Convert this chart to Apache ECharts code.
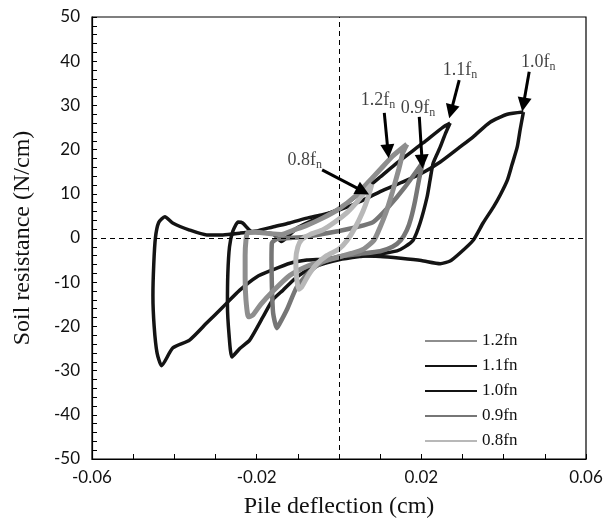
<!DOCTYPE html>
<html>
<head>
<meta charset="utf-8">
<script src="https://cdn.jsdelivr.net/npm/echarts@6/dist/echarts.min.js"></script>
<style>
  html, body { margin: 0; padding: 0; background: #fff; }
  #chart { width: 603px; height: 520px; }
</style>
</head>
<body>
<div id="chart"></div>
<script>
// series names (legend order)
var names = ['1.2fn', '1.1fn', '1.0fn', '0.9fn', '0.8fn'];
var xTickLabels = ['-0.06', '-0.02', '0.02', '0.06'];

// hysteresis loops: [deflection cm, resistance N/cm]
var loop10 = [
  [0.0448, 28.5], [0.0440, 24.5], [0.0433, 20.6], [0.0420, 16.5], [0.0409, 13.1], [0.0392, 9.8],
  [0.0375, 7.0], [0.0350, 3.4], [0.0326, -0.5], [0.0294, -3.4], [0.0270, -5.2], [0.0246, -5.8],
  [0.0200, -5.1], [0.0150, -4.6], [0.0100, -4.2], [0.0050, -4.1], [0.0000, -4.4], [-0.0040, -4.8],
  [-0.0078, -5.0], [-0.0119, -5.7], [-0.0161, -7.2], [-0.0200, -8.8], [-0.0241, -11.8], [-0.0282, -15.6],
  [-0.0321, -19.2], [-0.0363, -23.1], [-0.0404, -24.9], [-0.0431, -28.9], [-0.0442, -26.0], [-0.0449, -20.0],
  [-0.0452, -13.0], [-0.0450, -6.0], [-0.0446, 0.0], [-0.0438, 3.5], [-0.0423, 4.8], [-0.0404, 3.4],
  [-0.0363, 1.8], [-0.0321, 0.7], [-0.0282, 0.7], [-0.0241, 1.1], [-0.0200, 1.6], [-0.0161, 2.5],
  [-0.0120, 3.4], [-0.0078, 4.5], [-0.0040, 5.3], [0.0000, 6.3], [0.0050, 8.2], [0.0100, 10.5],
  [0.0150, 12.5], [0.0200, 14.6], [0.0246, 17.2], [0.0294, 20.6], [0.0326, 22.9], [0.0367, 26.2],
  [0.0409, 28.0], [0.0448, 28.5]
];
var loop11 = [
  [0.0270, 26.0], [0.0258, 23.5], [0.0246, 20.6], [0.0229, 17.0], [0.0221, 13.0], [0.0214, 9.3],
  [0.0197, 3.4], [0.0180, -0.5], [0.0160, -2.0], [0.0141, -2.9], [0.0100, -3.6], [0.0050, -4.2],
  [0.0000, -4.9], [-0.0030, -5.6], [-0.0063, -6.6], [-0.0102, -8.8], [-0.0136, -11.8], [-0.0161, -14.0],
  [-0.0185, -17.9], [-0.0217, -23.1], [-0.0241, -25.0], [-0.0260, -26.9], [-0.0267, -22.0], [-0.0271, -15.0],
  [-0.0270, -8.0], [-0.0266, -2.0], [-0.0258, 1.5], [-0.0245, 3.6], [-0.0234, 3.4], [-0.0215, 1.6],
  [-0.0190, 1.1], [-0.0160, 0.9], [-0.0140, -0.8], [-0.0125, 0.3], [-0.0100, 2.4], [-0.0050, 4.6],
  [0.0000, 6.6], [0.0058, 10.6], [0.0100, 13.8], [0.0141, 17.0], [0.0204, 21.5], [0.0253, 25.1],
  [0.0270, 26.0]
];
var loop12 = [
  [0.0165, 21.2], [0.0156, 19.5], [0.0145, 15.5], [0.0130, 10.5], [0.0115, 6.0], [0.0100, 2.5],
  [0.0085, -0.5], [0.0060, -2.5], [0.0030, -3.5], [0.0000, -4.3], [-0.0040, -5.3], [-0.0080, -6.5],
  [-0.0120, -8.5], [-0.0160, -12.0], [-0.0190, -15.0], [-0.0210, -17.5], [-0.0220, -17.8], [-0.0226, -14.0],
  [-0.0228, -9.0], [-0.0228, -4.0], [-0.0226, -0.5], [-0.0222, 1.2], [-0.0200, 1.3], [-0.0170, 1.0],
  [-0.0140, 0.8], [-0.0110, 1.8], [-0.0080, 2.8], [-0.0040, 4.5], [0.0000, 6.6], [0.0040, 9.5],
  [0.0070, 12.5], [0.0100, 15.5], [0.0130, 18.5], [0.0165, 21.2]
];
var loop09 = [
  [0.0204, 17.2], [0.0195, 13.5], [0.0185, 8.5], [0.0175, 4.5], [0.0165, 1.8], [0.0150, -0.5],
  [0.0130, -2.0], [0.0100, -3.0], [0.0050, -3.6], [0.0000, -4.2], [-0.0040, -5.5], [-0.0070, -7.5],
  [-0.0102, -11.0], [-0.0127, -16.3], [-0.0145, -19.5], [-0.0151, -20.4], [-0.0160, -17.0], [-0.0163, -11.0],
  [-0.0164, -5.0], [-0.0163, -1.1], [-0.0150, -0.2], [-0.0120, 0.0], [-0.0080, 0.3], [-0.0040, 0.9],
  [0.0000, 1.6], [0.0040, 2.4], [0.0083, 3.6], [0.0120, 7.0], [0.0160, 11.5], [0.0204, 17.2]
];
var loop08 = [
  [0.0080, 12.2], [0.0070, 9.0], [0.0058, 6.0], [0.0040, 2.5], [0.0020, -0.5], [0.0000, -2.5],
  [-0.0030, -4.0], [-0.0055, -6.0], [-0.0075, -8.5], [-0.0090, -11.0], [-0.0098, -11.6], [-0.0103, -9.0],
  [-0.0105, -5.0], [-0.0100, -2.0], [-0.0090, -0.3], [-0.0070, 0.8], [-0.0040, 1.8], [-0.0010, 3.6],
  [0.0020, 5.8], [0.0045, 8.3], [0.0065, 10.6], [0.0080, 12.2]
];

// arrow annotations
var arrowText = ['1.0', '1.1', '1.2', '0.9', '0.8'];
var arrowFrom = [[0.0462, 37.6], [0.0292, 35.7], [0.0110, 28.3], [0.0195, 27.4], [-0.0041, 15.4]];
var arrowTo = [[0.0448, 30.2], [0.0272, 28.6], [0.0119, 19.6], [0.0202, 17.3], [0.0058, 10.6]];
var labelPos = [[0.0484, 39.8], [0.0294, 38.0], [0.0095, 31.2], [0.0192, 29.4], [-0.0083, 17.6]];

var serif = '"Liberation Serif", "Times New Roman", serif';
var sans = 'Lato, "Open Sans", sans-serif';

var myChart = echarts.init(document.getElementById('chart'));

function loopSeries(name, data, color, width) {
	return {
		name: name,
		type: 'line',
		data: data,
		symbol: 'none',
		smooth: 0.2,
		animation: false,
		lineStyle: { color: color, width: width },
		itemStyle: { color: color }
	};
}

var arrowLines = [];
for (var i = 0; i < arrowFrom.length; i++) {
	arrowLines.push([{ coord: arrowFrom[i] }, { coord: arrowTo[i] }]);
}
var labelData = [];
for (var i = 0; i < labelPos.length; i++) {
	labelData.push({ value: labelPos[i], txt: arrowText[i] });
}

option = {
	backgroundColor: '#fff',
	animation: false,
	grid: {
		left: 92,
		right: 17,
		top: 17,
		bottom: 61,
		outerBoundsMode: 'none',
		show: true,
		borderColor: '#000',
		borderWidth: 1.2
	},
	legend: {
		data: names,
		orient: 'vertical',
		left: 420,
		top: 327,
		icon: 'rect',
		itemWidth: 52,
		itemHeight: 2,
		itemGap: 7,
		textStyle: { fontFamily: serif, fontSize: 17, color: '#111', lineHeight: 18 }
	},
	xAxis: {
		type: 'value',
		min: -0.06,
		max: 0.06,
		interval: 0.01,
		name: 'Pile deflection (cm)',
		nameLocation: 'middle',
		nameGap: 36,
		nameTextStyle: { fontFamily: serif, fontSize: 24, color: '#111' },
		axisLine: { show: true, onZero: false, lineStyle: { color: '#000', width: 1.2 } },
		axisTick: { show: true, inside: true, length: 5, lineStyle: { color: '#000' } },
		splitLine: { show: false },
		axisLabel: {
			fontFamily: sans,
			fontSize: 17,
			color: '#111',
			margin: 10,
			formatter: function (v) {
				var s = v.toFixed(2);
				return xTickLabels.indexOf(s) >= 0 ? s : '';
			}
		}
	},
	yAxis: {
		type: 'value',
		min: -50,
		max: 50,
		interval: 10,
		name: 'Soil resistance (N/cm)',
		nameLocation: 'middle',
		nameGap: 57,
		nameTextStyle: { fontFamily: serif, fontSize: 24, color: '#111' },
		axisLine: { show: true, onZero: false, lineStyle: { color: '#000', width: 1.2 } },
		axisTick: { show: true, inside: true, length: 5, lineStyle: { color: '#000' } },
		minorTick: { show: true, splitNumber: 5, length: 5, lineStyle: { color: '#000' } },
		splitLine: { show: false },
		axisLabel: { fontFamily: sans, fontSize: 17, color: '#111', margin: 12 }
	},
	series: [
		loopSeries('1.0fn', loop10, '#141414', 3.5),
		loopSeries('1.1fn', loop11, '#141414', 3.5),
		loopSeries('0.9fn', loop09, '#767676', 4.5),
		loopSeries('1.2fn', loop12, '#8e8e8e', 5),
		loopSeries('0.8fn', loop08, '#b8b8b8', 5),
		{
			type: 'line',
			data: [],
			silent: true,
			markLine: {
				silent: true,
				symbol: 'none',
				label: { show: false },
				lineStyle: { color: '#000', width: 1, type: [5, 4] },
				data: [{ xAxis: 0 }, { yAxis: 0 }]
			}
		},
		{
			type: 'line',
			data: [],
			silent: true,
			z: 9,
			markLine: {
				silent: true,
				symbol: ['none', 'triangle'],
				symbolSize: 14,
				label: { show: false },
				lineStyle: { color: '#000', width: 3, type: 'solid' },
				itemStyle: { color: '#000' },
				data: arrowLines
			}
		},
		{
			type: 'scatter',
			data: labelData,
			symbolSize: 0,
			silent: true,
			z: 10,
			label: {
				show: true,
				position: 'inside',
				formatter: function (p) { return '{a|' + p.data.txt + 'f}{b|n}'; },
				rich: {
					a: { fontFamily: serif, fontSize: 18, color: '#111' },
					b: { fontFamily: serif, fontSize: 12, color: '#111', padding: [10, 0, 0, 0] }
				}
			}
		}
	]
};

myChart.setOption(option);
</script>
</body>
</html>
